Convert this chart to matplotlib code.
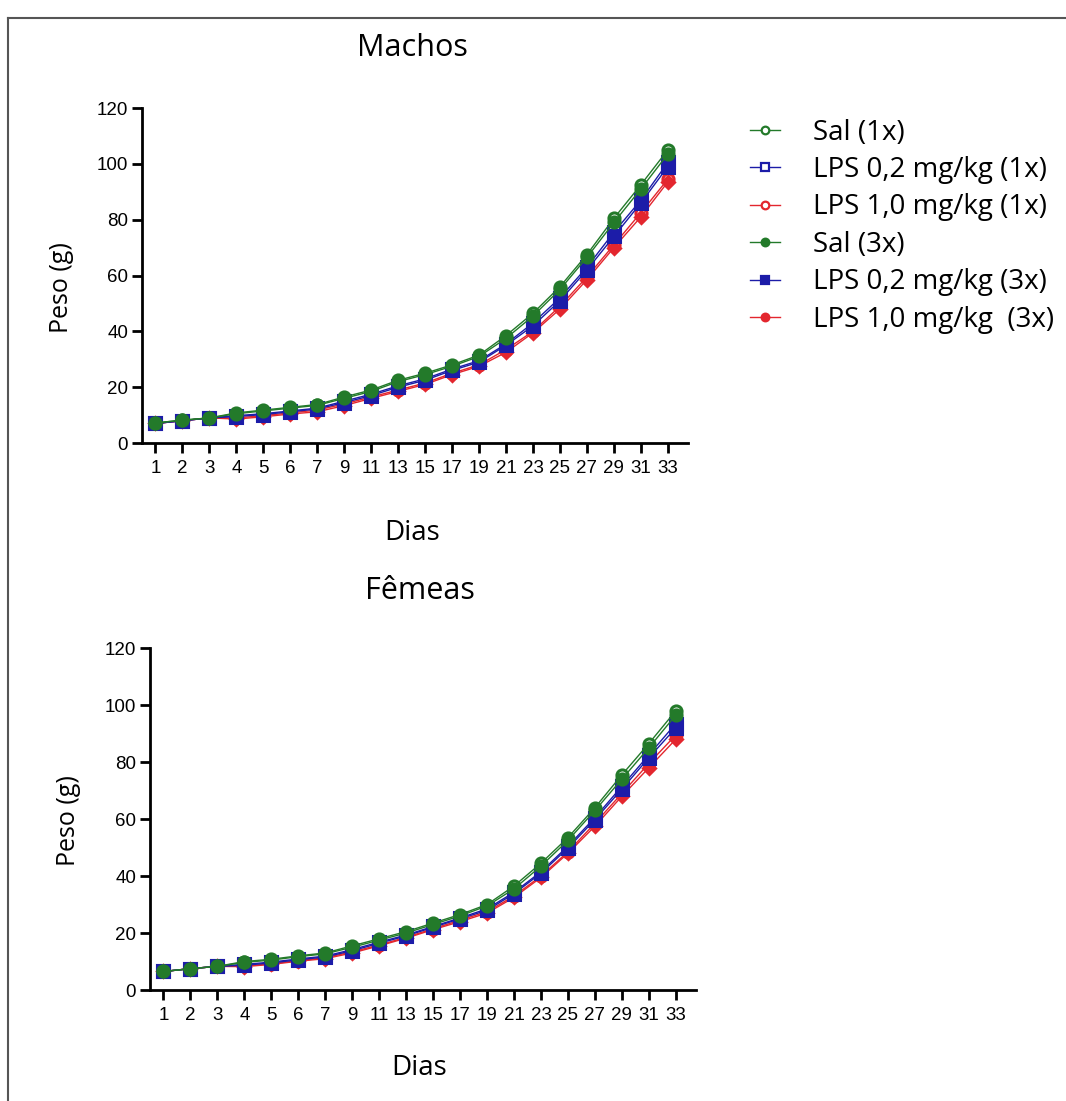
import matplotlib
matplotlib.use('Agg')
import matplotlib.pyplot as plt
from matplotlib.lines import Line2D

dias = ['1', '2', '3', '4', '5', '6', '7', '9', '11', '13', '15', '17', '19',
        '21', '23', '25', '27', '29', '31', '33']

grupos = ['Sal (1x)', 'LPS 0,2 mg/kg (1x)', 'LPS 1,0 mg/kg (1x)',
          'Sal (3x)', 'LPS 0,2 mg/kg (3x)', 'LPS 1,0 mg/kg  (3x)']

# Machos
m_sal1 = [7.2, 8.2, 9.0, 10.8, 11.8, 12.8, 13.8, 16.5, 19.0, 22.5, 25.0, 28.0, 31.5, 38.5, 46.5, 56.0, 67.5, 80.5, 92.5, 105.0]
m_lps02_1 = [7.0, 8.0, 9.0, 9.8, 10.5, 11.5, 12.5, 15.0, 17.5, 20.5, 23.0, 26.5, 29.5, 35.5, 43.0, 52.0, 63.0, 75.5, 87.0, 100.5]
m_lps10_1 = [7.0, 8.0, 9.0, 9.0, 9.8, 10.8, 11.8, 14.0, 16.5, 19.0, 21.5, 25.0, 28.0, 33.5, 40.0, 49.0, 59.5, 71.0, 82.5, 94.5]
m_sal3 = [7.2, 8.2, 9.0, 10.5, 11.5, 12.5, 13.5, 16.0, 18.5, 22.0, 24.5, 27.5, 31.0, 37.5, 45.5, 55.0, 66.5, 79.0, 91.0, 103.5]
m_lps02_3 = [7.0, 8.0, 9.0, 9.5, 10.2, 11.2, 12.2, 14.5, 17.0, 20.0, 22.5, 26.0, 29.0, 35.0, 42.0, 51.0, 62.0, 74.0, 86.0, 99.0]
m_lps10_3 = [7.0, 8.0, 9.0, 8.6, 9.4, 10.4, 11.2, 13.4, 16.0, 18.5, 21.0, 24.5, 27.5, 32.5, 39.5, 48.0, 58.5, 70.0, 81.0, 93.5]

# Femeas
f_sal1 = [6.5, 7.5, 8.3, 10.0, 10.8, 12.0, 13.0, 15.5, 18.0, 20.5, 23.5, 26.5, 30.0, 36.5, 44.5, 53.5, 64.0, 75.5, 86.5, 98.0]
f_lps02_1 = [6.5, 7.5, 8.3, 9.0, 9.8, 10.9, 11.9, 14.2, 16.8, 19.3, 22.3, 25.3, 28.5, 34.3, 41.5, 50.5, 60.5, 71.5, 82.5, 93.5]
f_lps10_1 = [6.5, 7.5, 8.3, 8.4, 9.2, 10.3, 11.3, 13.4, 15.8, 18.5, 21.5, 24.5, 27.5, 33.0, 40.0, 48.5, 58.5, 69.0, 79.5, 89.5]
f_sal3 = [6.5, 7.5, 8.3, 9.7, 10.5, 11.7, 12.7, 15.0, 17.5, 20.0, 23.0, 26.0, 29.5, 35.5, 43.5, 52.5, 63.0, 74.0, 85.0, 96.5]
f_lps02_3 = [6.5, 7.5, 8.3, 8.7, 9.5, 10.6, 11.6, 13.8, 16.4, 19.0, 22.0, 25.0, 28.0, 33.8, 41.0, 49.8, 59.8, 70.5, 81.5, 92.0]
f_lps10_3 = [6.5, 7.5, 8.3, 8.2, 9.0, 10.1, 11.0, 13.0, 15.5, 18.2, 21.2, 24.0, 27.0, 32.5, 39.5, 48.0, 57.5, 68.0, 78.0, 88.0]

verde = '#237a2a'
azul = '#1c1ca8'
verm = '#e3262e'
cores = [verde, azul, verm, verde, azul, verm]
marcas = ['o', 's', 'o', 'o', 's', 'D']
cheio = [False, False, False, True, True, True]

txt_font = 'Open Sans'
tick_font = 'Liberation Sans'

fig = plt.figure(figsize=(10.66, 11.01), dpi=100)


def painel(ax, series):
    x = list(range(len(dias)))
    # red first, green on top; open markers under the filled ones
    for i in [2, 5, 1, 4, 0, 3]:
        mfc = cores[i] if cheio[i] else 'white'
        ax.plot(x, series[i], color=cores[i], lw=1.0, marker=marcas[i],
                markersize=8 if marcas[i] != 'D' else 6, markerfacecolor=mfc,
                markeredgecolor=cores[i], markeredgewidth=2.2, clip_on=False)
    ax.set_xlim(-0.5, 19.74)
    ax.set_ylim(0, 120)
    ax.set_yticks([0, 20, 40, 60, 80, 100, 120])
    ax.set_xticks(x)
    ax.set_xticklabels(dias)
    ax.spines['top'].set_visible(False)
    ax.spines['right'].set_visible(False)
    ax.spines['left'].set_linewidth(2)
    ax.spines['bottom'].set_linewidth(2)
    ax.tick_params(axis='both', width=2, length=7, labelsize=13.5, pad=3)
    ax.tick_params(axis='x', pad=5)
    for lab in ax.get_xticklabels() + ax.get_yticklabels():
        lab.set_fontfamily(tick_font)


ax1 = fig.add_axes([0.1332, 0.5976, 0.512, 0.3043])
painel(ax1, [m_sal1, m_lps02_1, m_lps10_1, m_sal3, m_lps02_3, m_lps10_3])

ax2 = fig.add_axes([0.1407, 0.1008, 0.512, 0.3106])
painel(ax2, [f_sal1, f_lps02_1, f_lps10_1, f_sal3, f_lps02_3, f_lps10_3])

fig.text(0.387, 0.956, 'Machos', ha='center', va='center', fontsize=22, family=txt_font)
fig.text(0.394, 0.463, 'Fêmeas', ha='center', va='center', fontsize=22, family=txt_font)
fig.text(0.058, 0.739, 'Peso (g)', ha='center', va='center', rotation=90, fontsize=18, family=txt_font)
fig.text(0.064, 0.255, 'Peso (g)', ha='center', va='center', rotation=90, fontsize=18, family=txt_font)
fig.text(0.3865, 0.516, 'Dias', ha='center', va='center', fontsize=20, family=txt_font)
fig.text(0.3935, 0.030, 'Dias', ha='center', va='center', fontsize=20, family=txt_font)

# legend
handles = []
for i in range(6):
    mfc = cores[i] if cheio[i] else 'white'
    handles.append(Line2D([], [], color=cores[i], lw=1.0, marker='s' if marcas[i] == 's' else 'o',
                          markersize=5.5, markerfacecolor=mfc, markeredgecolor=cores[i],
                          markeredgewidth=1.6))
fig.legend(handles, grupos, loc='upper left', bbox_to_anchor=(0.68, 0.915),
           frameon=False, prop={'family': txt_font, 'size': 20},
           handlelength=1.08, handletextpad=1.2, labelspacing=0.34)

# moldura da figura original
fig.add_artist(Line2D([8 / 1066, 8 / 1066], [0, 1 - 18 / 1101], color='#555555', lw=1.5))
fig.add_artist(Line2D([8 / 1066, 1], [1 - 18 / 1101, 1 - 18 / 1101], color='#555555', lw=1.5))

fig.savefig('out.png', dpi=100)
